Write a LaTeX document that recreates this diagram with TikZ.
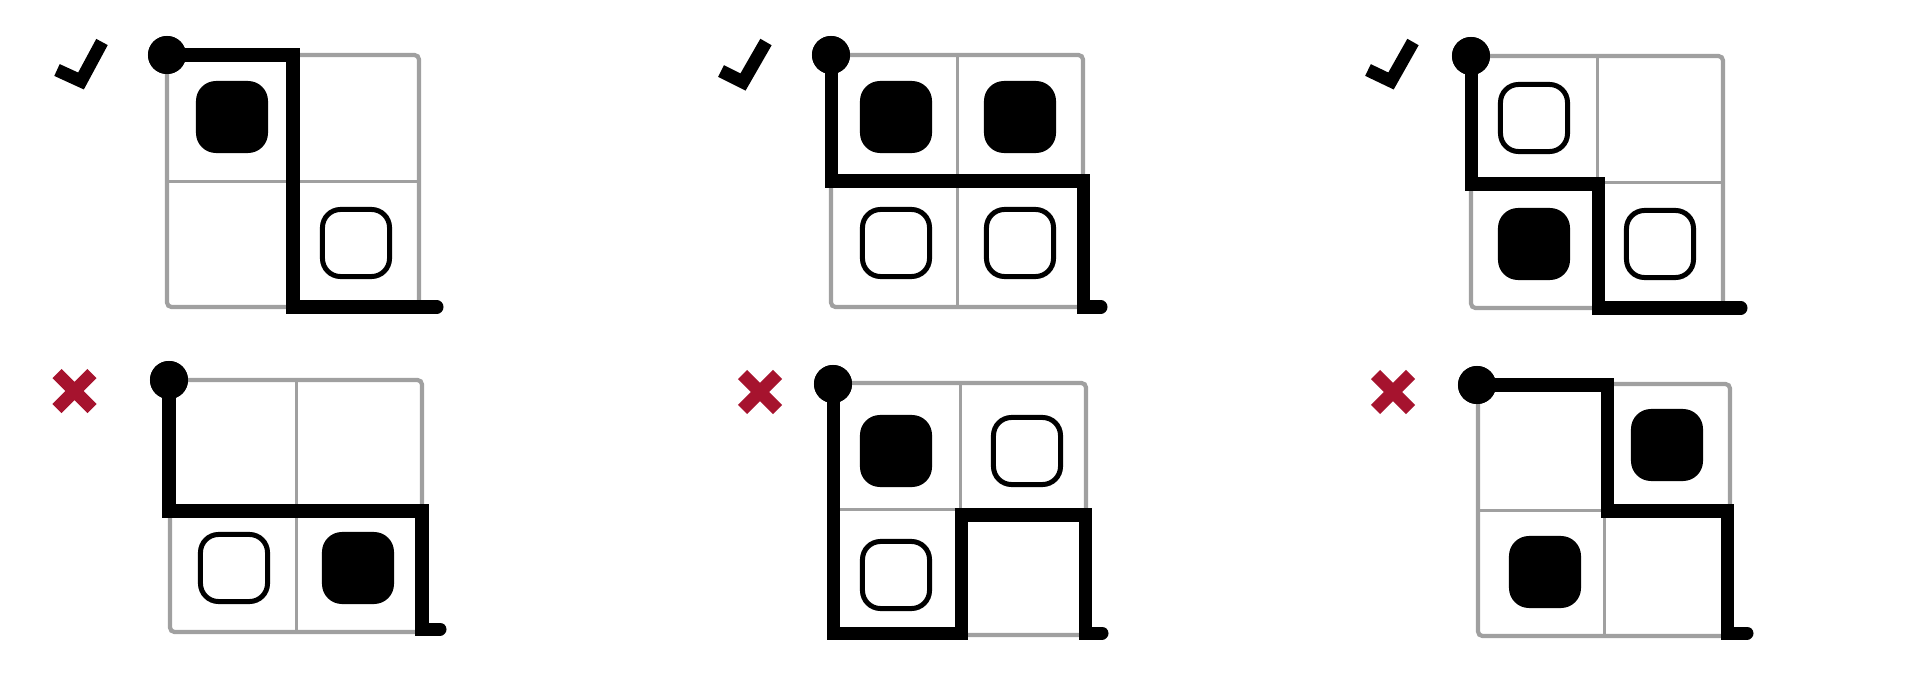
\documentclass[tikz,border=0pt]{standalone}
\definecolor{gridgray}{RGB}{160,160,160}
\definecolor{xred}{RGB}{166,19,46}
\tikzset{
  frame/.style={draw=gridgray, line width=0.042cm, rounded corners=0.045cm},
  innerline/.style={draw=gridgray, line width=0.03cm},
  route/.style={draw=black, line width=0.13cm, line join=miter, line cap=round},
  startdot/.style={circle, fill=black, minimum size=0.38cm, inner sep=0pt},
  fullpiece/.style={rectangle, fill=black, rounded corners=0.2cm, minimum size=0.72cm, inner sep=0pt},
  emptypiece/.style={rectangle, draw=black, fill=white, line width=0.05cm, rounded corners=0.18cm, minimum size=0.67cm, inner sep=0pt},
  okmark/.style={draw=black, line width=0.13cm, line join=miter},
  badmark/.style={draw=xred, line width=0.13cm},
}
\begin{document}
\begin{tikzpicture}[x=0.01cm, y=-0.01cm]
\useasboundingbox[fill=white] (0,0) rectangle (1920,700);

% ---------- panel 1 ----------
\draw[okmark] (57,70) -- (81,81) -- (102,42);
\begin{scope}[shift={(167,55)}]
  \draw[frame] (0,0) rectangle (252,252);
  \draw[innerline] (126,0) -- (126,252) (0,126) -- (252,126);
  \node[fullpiece] (p1a) at (65,62) {};
  \node[emptypiece] (p1b) at (189,188) {};
  \node[startdot] (p1dot) at (0,0) {};
  \coordinate (p1end) at (270,252);
  \draw[route] (p1dot.center) -- (126,0) -- (126,252) -- (252,252) -- (p1end);
  \node[startdot] at (p1dot) {};
\end{scope}

% ---------- panel 2 ----------
\draw[okmark] (721,71) -- (743,82) -- (766,42);
\begin{scope}[shift={(831,55)}]
  \draw[frame] (0,0) rectangle (252,252);
  \draw[innerline] (126,0) -- (126,252) (0,126) -- (252,126);
  \node[fullpiece] (p2a) at (65,62) {};
  \node[fullpiece] (p2b) at (189,62) {};
  \node[emptypiece] (p2c) at (65,188) {};
  \node[emptypiece] (p2d) at (189,188) {};
  \node[startdot] (p2dot) at (0,0) {};
  \coordinate (p2end) at (270,252);
  \draw[route] (p2dot.center) -- (0,126) -- (252,126) -- (252,252) -- (p2end);
  \node[startdot] at (p2dot) {};
\end{scope}

% ---------- panel 3 ----------
\draw[okmark] (1368,70) -- (1391,81) -- (1413,42);
\begin{scope}[shift={(1471,56)}]
  \draw[frame] (0,0) rectangle (252,252);
  \draw[innerline] (126,0) -- (126,252) (0,126) -- (252,126);
  \node[emptypiece] (p3a) at (63,62) {};
  \node[fullpiece] (p3b) at (63,188) {};
  \node[emptypiece] (p3c) at (189,188) {};
  \node[startdot] (p3dot) at (0,0) {};
  \coordinate (p3end) at (270,252);
  \draw[route] (p3dot.center) -- (0,128) -- (127,128) -- (127,252) -- (252,252) -- (p3end);
  \node[startdot] at (p3dot) {};
\end{scope}

% ---------- panel 4 ----------
\draw[badmark] (74.5,391) +(-17.5,-17.5) -- +(17.5,17.5) +(-17.5,17.5) -- +(17.5,-17.5);
\begin{scope}[shift={(170,380)}]
  \draw[frame] (0,0) rectangle (252,252);
  \draw[innerline] (126,0) -- (126,252) (0,126) -- (252,126);
  \node[emptypiece] (p4a) at (64,188) {};
  \node[fullpiece] (p4b) at (188,188) {};
  \node[startdot] (p4dot) at (-1,0) {};
  \coordinate (p4end) at (270,249);
  \draw[route] (p4dot.center) -- (-1,131) -- (252,131) -- (252,249) -- (p4end);
  \node[startdot] at (p4dot) {};
\end{scope}

% ---------- panel 5 ----------
\draw[badmark] (760,392) +(-17.5,-17.5) -- +(17.5,17.5) +(-17.5,17.5) -- +(17.5,-17.5);
\begin{scope}[shift={(834,383)}]
  \draw[frame] (0,0) rectangle (252,252);
  \draw[innerline] (126,0) -- (126,252) (0,126) -- (252,126);
  \node[fullpiece] (p5a) at (62,68) {};
  \node[emptypiece] (p5b) at (193,68) {};
  \node[emptypiece] (p5c) at (62,192) {};
  \node[startdot] (p5dot) at (-1,1) {};
  \coordinate (p5end) at (268,250);
  \draw[route] (p5dot.center) -- (-1,250) -- (127,250) -- (127,132) -- (251,132) -- (251,250) -- (p5end);
  \node[startdot] at (p5dot) {};
\end{scope}

% ---------- panel 6 ----------
\draw[badmark] (1393,392) +(-17.5,-17.5) -- +(17.5,17.5) +(-17.5,17.5) -- +(17.5,-17.5);
\begin{scope}[shift={(1478,384)}]
  \draw[frame] (0,0) rectangle (252,252);
  \draw[innerline] (126,0) -- (126,252) (0,126) -- (252,126);
  \node[fullpiece] (p6a) at (189,61) {};
  \node[fullpiece] (p6b) at (67,188) {};
  \node[startdot] (p6dot) at (-1,1) {};
  \coordinate (p6end) at (269,249);
  \draw[route] (p6dot.center) -- (129,1) -- (129,127) -- (249,127) -- (249,249) -- (p6end);
  \node[startdot] at (p6dot) {};
\end{scope}
\end{tikzpicture}
\end{document}
